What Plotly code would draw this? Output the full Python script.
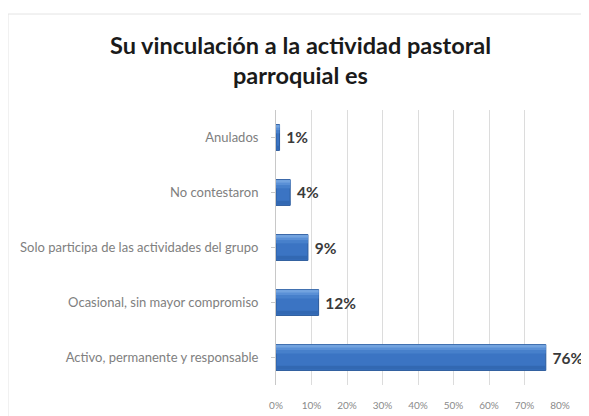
import plotly.graph_objects as go

categories = [
    "Activo, permanente y responsable",
    "Ocasional, sin mayor compromiso",
    "Solo participa de las actividades del grupo",
    "No contestaron",
    "Anulados",
]
values = [0.76, 0.12, 0.09, 0.04, 0.01]
value_labels = ["76%", "12%", "9%", "4%", "1%"]
x_ticks = [0, 0.1, 0.2, 0.3, 0.4, 0.5, 0.6, 0.7, 0.8]
x_tick_labels = ["0%", "10%", "20%", "30%", "40%", "50%", "60%", "70%", "80%"]
title_lines = ["Su vinculación a la actividad pastoral", "parroquial es"]

# page body has an 8px margin, so figure is drawn at (8, 8)
OFF = 8
W, H = 589 - OFF, 416 - OFF
L, R, T, B = 276 - OFF, 589 - 560, 110 - OFF, 416 - 385
pw, ph = W - L - R, H - T - B

def px_x(px):
    return (px - OFF - L) / pw

def px_y(py):
    return (H - B - (py - OFF)) / ph

BW = 0.47
fig = go.Figure()
fig.add_trace(go.Bar(
    y=categories,
    x=values,
    orientation="h",
    width=BW,
    marker=dict(color="#3b74c3", line=dict(color="#2b5a9b", width=1)),
    text=[" " + t for t in value_labels],
    textposition="outside",
    textfont=dict(family="Lato", size=15.5, color="#3a3a3a", weight="bold"),
    cliponaxis=False,
    hoverinfo="skip",
))
# gradient-like shading: light bands at top, darker band at bottom
shades = [
    (0.14, BW / 2 - 0.16, "#4780cb"),
    (0.09, BW / 2 - 0.10, "#5a90d6"),
    (0.05, BW / 2 - 0.055, "#72a3df"),
    (0.07, -BW / 2 + 0.015, "#3268b2"),
]
for w, off, col in shades:
    fig.add_trace(go.Bar(
        y=categories, x=values, orientation="h",
        width=w, offset=off,
        marker=dict(color=col, line=dict(width=0)),
        hoverinfo="skip",
    ))

fig.update_layout(
    width=W, height=H,
    margin=dict(l=L, r=R, t=T, b=B, autoexpand=False),
    paper_bgcolor="white",
    plot_bgcolor="white",
    showlegend=False,
    barmode="overlay",
    font=dict(family="Lato", color="#595959"),
    xaxis=dict(
        range=[0, 0.8],
        tickvals=x_ticks,
        ticktext=x_tick_labels,
        showgrid=True,
        gridcolor="#dcdcdc",
        gridwidth=1,
        zeroline=False,
        showline=False,
        tickfont=dict(size=10, color="#8a8a8a"),
        ticks="",
        ticklabelstandoff=13,
        fixedrange=True,
    ),
    yaxis=dict(
        categoryorder="array",
        categoryarray=categories,
        showgrid=False,
        showline=True,
        linecolor="#c8c8c8",
        ticks="outside",
        ticklen=4,
        tickcolor="#c8c8c8",
        ticklabelstandoff=10,
        tickfont=dict(size=13, color="#808080"),
        fixedrange=True,
    ),
    annotations=[
        dict(text=title_lines[0], x=px_x(300), y=px_y(45), xref="paper", yref="paper",
             showarrow=False, xanchor="center", yanchor="middle",
             font=dict(family="Lato", size=23.5, color="#1a1a1a", weight="bold")),
        dict(text=title_lines[1], x=px_x(300), y=px_y(75), xref="paper", yref="paper",
             showarrow=False, xanchor="center", yanchor="middle",
             font=dict(family="Lato", size=23.5, color="#1a1a1a", weight="bold")),
    ],
    shapes=[
        dict(type="rect", xref="paper", yref="paper",
             x0=px_x(8), x1=px_x(620), y0=px_y(440), y1=px_y(14),
             line=dict(color="#e4e4e4", width=1), fillcolor="rgba(0,0,0,0)", layer="below"),
    ],
)

fig.write_html("out.html")
